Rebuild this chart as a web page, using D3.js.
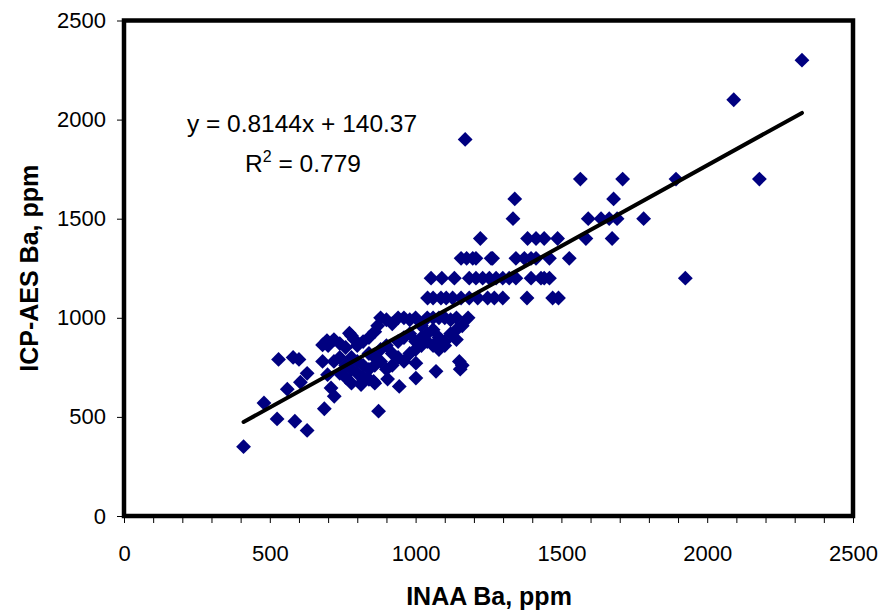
<!DOCTYPE html>
<html>
<head>
<meta charset="utf-8">
<script src="https://cdn.jsdelivr.net/npm/d3@7"></script>
<style>
  body { margin: 0; background: #fff; }
  text { font-family: Arial, "Liberation Sans", sans-serif; fill: #000; }
</style>
</head>
<body>
<div id="chart"></div>
<script>
// INAA Ba (x) vs ICP-AES Ba (y), ppm
var inaaBa = [
  // low tail
  410, 480, 525, 530, 580, 600, 560, 605, 628, 586, 628, 687, 681, 681, 696, 698, 710, 721, 773,
  // main cluster, upper band
  700, 720, 740, 760, 780, 790, 800, 820, 840, 860, 870, 880, 900, 920, 940, 960, 980, 1000, 1020, 1040, 1060, 1080, 1100, 1120, 1140, 1180,
  // main cluster, middle band
  720, 740, 760, 780, 800, 820, 840, 860, 880, 900, 920, 940, 960, 980, 1000, 1020, 1040, 1060, 1080, 1100, 1120, 1140, 1160,
  // main cluster, lower band
  740, 760, 780, 800, 820, 840, 860, 880, 900, 920, 940, 960, 980, 1000, 1020, 1040, 1060, 1080, 1100, 1140, 1090,
  780, 820, 840, 860, 904, 944, 1001, 1001, 1070, 1150, 1153, 1160, 813, 856, 873,
  // 1100 row
  1041, 1060, 1087, 1105, 1127, 1156, 1184, 1213, 1247, 1270, 1299, 1382, 1470, 1490,
  // 1200 row
  1053, 1090, 1133, 1184, 1207, 1230, 1253, 1276, 1299, 1321, 1344, 1396, 1430, 1441, 1459, 1925,
  // 1300 row
  1156, 1175, 1196, 1207, 1259, 1264, 1344, 1373, 1396, 1413, 1459, 1527,
  // 1400 row
  1222, 1384, 1413, 1441, 1487, 1584, 1674,
  // 1500 - 1700 rows
  1334, 1592, 1636, 1664, 1691, 1782,
  1340, 1679,
  1565, 1710, 1893, 2179,
  // high points
  1170, 2091, 2325
];
var icpBa = [
  350, 570, 490, 790, 800, 790, 640, 675, 720, 478, 432, 541, 780, 863, 885, 713, 646, 604, 922,
  860, 890, 870, 850, 910, 890, 860, 880, 900, 930, 960, 1000, 990, 970, 1000, 1000, 990, 1000, 960, 1000, 1000, 1000, 1000, 990, 1000, 1000,
  780, 800, 760, 800, 780, 760, 820, 800, 840, 860, 820, 880, 900, 920, 880, 900, 920, 940, 900, 880, 920, 940, 960,
  720, 700, 740, 720, 700, 740, 760, 780, 740, 760, 800, 780, 820, 840, 860, 880, 860, 840, 860, 890, 875,
  670, 680, 690, 670, 691, 654, 696, 771, 730, 780, 741, 760, 663, 679, 529,
  1100, 1100, 1100, 1100, 1100, 1100, 1100, 1100, 1100, 1100, 1100, 1100, 1100, 1100,
  1200, 1200, 1200, 1200, 1200, 1200, 1200, 1200, 1200, 1200, 1200, 1200, 1200, 1200, 1200, 1200,
  1300, 1300, 1300, 1300, 1300, 1300, 1300, 1300, 1300, 1300, 1300, 1300,
  1400, 1400, 1400, 1400, 1400, 1400, 1400,
  1500, 1500, 1500, 1500, 1500, 1500,
  1600, 1600,
  1700, 1700, 1700, 1700,
  1900, 2100, 2300
];
var xTicks = d3.range(0, 2501, 100);
var xLabels = [0, 500, 1000, 1500, 2000, 2500];
var yTicks = [0, 500, 1000, 1500, 2000, 2500];
var slope = 0.8144, intercept = 140.37, rSquared = "0.779";

var width = 882, height = 615;
var plotLeft = 124, plotRight = 853, plotTop = 20.5, plotBottom = 516;

var svg = d3.select("#chart").append("svg")
  .attr("width", width)
  .attr("height", height);

var x = d3.scaleLinear().domain([0, 2500]).range([plotLeft, plotRight]);
var y = d3.scaleLinear().domain([0, 2500]).range([plotBottom, plotTop]);

/** x axis: minor ticks every 100, labels at 500s */
var xAxis = svg.append("g")
  .attr("transform", "translate(0," + plotBottom + ")")
  .call(d3.axisBottom(x)
    .tickValues(xTicks)
    .tickSize(7)
    .tickPadding(22)
    .tickFormat(function(d) { return xLabels.indexOf(d) >= 0 ? d : ""; }));
xAxis.select(".domain").remove();
xAxis.selectAll("line").attr("stroke", "#000").attr("stroke-width", 1);
xAxis.selectAll("text").style("font-size", "22px").attr("font-family", null);

/** y axis */
var yAxis = svg.append("g")
  .attr("transform", "translate(" + plotLeft + ",0)")
  .call(d3.axisLeft(y)
    .tickValues(yTicks)
    .tickSize(7)
    .tickPadding(11)
    .tickFormat(d3.format("d")));
yAxis.select(".domain").remove();
yAxis.selectAll("line").attr("stroke", "#000").attr("stroke-width", 1);
yAxis.selectAll("text").style("font-size", "22px").attr("font-family", null);

/** points */
var pts = inaaBa.map(function(v, i) { return [v, icpBa[i]]; });
var diamond = d3.symbol().type(d3.symbolSquare).size(110);
svg.append("g").selectAll("path")
  .data(pts)
  .enter().append("path")
  .attr("d", diamond)
  .attr("transform", function(d) { return "translate(" + x(d[0]) + "," + y(d[1]) + ") rotate(45)"; })
  .attr("fill", "#000080");

/** linear trendline over the data range */
var xMin = d3.min(inaaBa), xMax = d3.max(inaaBa);
svg.append("line")
  .attr("x1", x(xMin)).attr("y1", y(slope * xMin + intercept))
  .attr("x2", x(xMax)).attr("y2", y(slope * xMax + intercept))
  .attr("stroke", "#000")
  .attr("stroke-width", 4)
  .attr("stroke-linecap", "round");

/** plot frame */
svg.append("rect")
  .attr("x", plotLeft).attr("y", plotTop)
  .attr("width", plotRight - plotLeft).attr("height", plotBottom - plotTop)
  .attr("fill", "none")
  .attr("stroke", "#000")
  .attr("stroke-width", 4.5);

/** equation */
svg.append("text")
  .attr("x", 302).attr("y", 132)
  .attr("text-anchor", "middle")
  .style("font-size", "24.5px")
  .text("y = " + slope + "x + " + intercept);
var r2 = svg.append("text")
  .attr("x", 303).attr("y", 172)
  .attr("text-anchor", "middle")
  .style("font-size", "24.5px");
r2.append("tspan").text("R");
r2.append("tspan").attr("dy", -10).style("font-size", "16px").text("2");
r2.append("tspan").attr("dy", 10).text(" = " + rSquared);

/** axis titles */
svg.append("text")
  .attr("x", 489).attr("y", 605)
  .attr("text-anchor", "middle")
  .style("font-size", "25px")
  .style("font-weight", "bold")
  .text("INAA Ba, ppm");
svg.append("text")
  .attr("transform", "translate(38," + ((plotTop + plotBottom) / 2) + ") rotate(-90)")
  .attr("text-anchor", "middle")
  .style("font-size", "25px")
  .style("font-weight", "bold")
  .text("ICP-AES Ba, ppm");
</script>
</body>
</html>
